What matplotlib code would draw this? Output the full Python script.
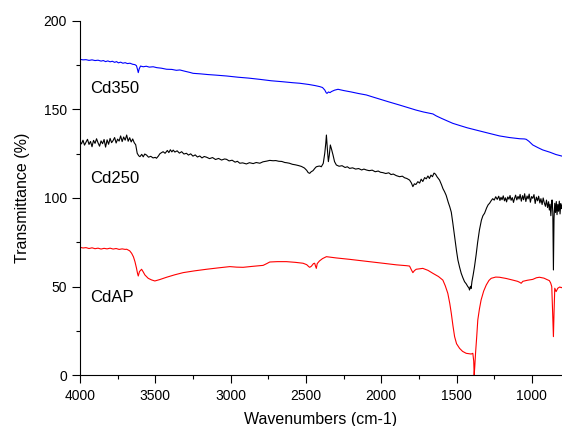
import matplotlib
matplotlib.use("Agg")
import matplotlib.pyplot as plt
from matplotlib.ticker import MultipleLocator

plt.rcParams['font.family'] = ['Liberation Sans', 'DejaVu Sans']

# Cd350 (blue)
cd350_wn = [4000, 3980, 3960, 3940, 3920, 3900, 3880, 3860, 3845, 3830, 3815, 3800, 3785, 3770,
            3757, 3745, 3730, 3715, 3700, 3685, 3668, 3650, 3635, 3625, 3618, 3613, 3607, 3598,
            3580, 3560, 3540, 3514, 3490, 3460, 3425, 3390, 3360, 3337, 3300, 3270, 3249, 3200,
            3150, 3100, 3027, 2950, 2880, 2806, 2730, 2660, 2586, 2541, 2480, 2440, 2408, 2390,
            2375, 2365, 2360, 2350, 2340, 2331, 2310, 2287, 2250, 2200, 2150, 2099, 2050, 2000,
            1950, 1878, 1820, 1770, 1720, 1680, 1657, 1635, 1600, 1560, 1525, 1480, 1430, 1370,
            1300, 1215, 1150, 1080, 1050, 1038, 1020, 994, 960, 928, 880, 840, 804, 800]
cd350_t = [178.2, 177.9, 178.0, 177.6, 177.9, 177.5, 177.7, 177.2, 177.5, 176.9, 177.3, 176.8,
           177.1, 176.5, 176.9, 176.2, 176.6, 176.0, 176.3, 175.8, 176.0, 175.4, 175.2, 174.6,
           172.5, 170.7, 172.8, 174.4, 174.0, 174.3, 173.8, 174.0, 173.5, 173.2, 172.6, 172.5,
           172.0, 172.2, 171.4, 170.8, 170.3, 170.0, 169.6, 169.3, 168.8, 168.1, 167.6, 166.9,
           166.1, 165.6, 165.0, 164.7, 164.0, 163.4, 162.8, 162.3, 160.9, 159.3, 159.0, 159.8,
           159.4, 160.0, 160.8, 161.3, 160.6, 159.8, 158.9, 158.1, 156.8, 155.5, 154.2, 152.4,
           150.9, 149.6, 148.5, 147.8, 147.4, 146.3, 144.9, 143.4, 142.1, 140.9, 139.6, 138.3,
           136.8, 135.0, 134.1, 133.4, 133.3, 133.1, 132.0, 129.9, 128.4, 127.1, 125.8, 124.5,
           123.7, 123.6]

# Cd250 (black)
cd250_wn = [4000, 3990, 3980, 3970, 3960, 3950, 3940, 3930, 3920, 3910, 3900, 3890, 3880, 3870,
            3860, 3850, 3840, 3830, 3820, 3810, 3800, 3790, 3780, 3770, 3760, 3750, 3740, 3730,
            3720, 3710, 3700, 3690, 3680, 3670, 3660, 3650, 3640, 3630,
            3620, 3610, 3602, 3590, 3580, 3570, 3558, 3545, 3530, 3515, 3500, 3492, 3480, 3470,
            3460, 3448, 3435, 3420, 3410, 3400, 3390, 3381, 3370, 3355, 3340, 3325, 3310, 3293,
            3280, 3265, 3250, 3235, 3220, 3205, 3190, 3175, 3160, 3140, 3120, 3100, 3080, 3060,
            3040, 3027, 3010, 2990, 2970, 2955, 2939, 2920, 2895, 2875, 2850, 2830, 2806, 2785,
            2760, 2740, 2718, 2700, 2680, 2660, 2640, 2629, 2610, 2590, 2570, 2550, 2530, 2510,
            2495, 2485, 2475, 2465, 2453, 2440, 2431, 2418, 2408, 2398, 2385, 2375, 2368, 2364,
            2358, 2351, 2345, 2338, 2330, 2320, 2310, 2298, 2280, 2260, 2240, 2225, 2210, 2190,
            2170, 2150, 2130, 2115, 2099, 2080, 2060, 2040, 2020, 2005, 1989, 1970, 1950, 1935,
            1920, 1900, 1878, 1860, 1845, 1830, 1812, 1800, 1790, 1780, 1770, 1757, 1745, 1735,
            1724, 1712, 1701, 1690, 1680, 1670, 1660, 1650, 1646, 1638, 1630, 1613, 1600, 1590,
            1580, 1569, 1555, 1545, 1535, 1525, 1513, 1500, 1491, 1480, 1469, 1458, 1447, 1436,
            1425, 1418, 1414, 1408, 1403, 1398, 1390, 1381, 1370, 1360, 1348, 1335, 1325, 1314,
            1300, 1290, 1281, 1270, 1260, 1250, 1240, 1230, 1220, 1212, 1205, 1198, 1190, 1182,
            1175, 1168, 1160, 1152, 1145, 1138, 1130, 1122, 1115, 1108, 1100, 1092, 1085, 1078,
            1070, 1062, 1055, 1048, 1040, 1032, 1025, 1018, 1010, 1002, 994, 986, 978, 970, 962,
            955, 947, 940, 932, 925, 918, 910, 903, 896, 889, 884, 879, 874, 870, 866, 861, 857,
            853, 848, 843, 838, 833, 828, 823, 818, 813, 808, 804, 800]
cd250_t = [131.8, 130.5, 132.6, 129.8, 131.4, 133.1, 130.2, 131.9, 128.9, 132.5, 130.8, 133.4,
           131.1, 129.2, 132.2, 130.6, 133.0, 128.7, 132.8, 130.3, 133.6, 131.2, 132.4, 134.1,
           131.0, 133.2, 132.1, 135.0, 131.8, 134.4, 132.6, 135.5, 132.0, 134.0, 131.6, 133.3,
           131.2, 130.0,
           125.2, 123.8, 123.3, 124.6, 123.2, 124.8, 124.2, 123.0, 123.5, 122.6, 122.9, 122.4,
           123.6, 124.9, 125.5, 126.1, 125.2, 126.8, 125.6, 127.2, 126.0, 127.0, 125.9, 126.6,
           125.3, 126.1, 124.8, 125.2, 124.2, 124.9, 123.6, 124.3, 123.1, 123.7, 122.6, 123.4,
           123.0, 122.2, 122.8, 121.7, 122.3, 121.4, 122.0, 121.8, 120.9, 121.3, 120.2, 120.7,
           119.6, 119.8, 119.2, 119.9, 119.4, 120.0, 119.6, 120.4, 120.8, 121.2, 121.0, 121.1,
           120.7, 120.6, 120.0, 119.9, 119.6, 119.0, 118.7, 118.3, 117.8, 116.9, 115.6, 114.3,
           113.9, 114.8, 115.4, 116.8, 117.6, 117.9, 118.0, 117.6, 119.5, 125.2, 131.0, 135.5,
           128.0, 120.5, 124.0, 129.9, 127.5, 124.2, 120.5, 118.6, 117.9, 118.2, 117.2, 117.6,
           116.7, 117.0, 116.3, 116.6, 115.8, 116.3, 115.8, 115.4, 115.7, 114.8, 115.2, 114.5,
           114.3, 113.8, 114.2, 113.2, 113.5, 112.6, 112.0, 112.3, 111.4, 111.0, 110.1, 108.5,
           106.4, 108.0, 107.6, 109.2, 108.4, 110.6, 109.3, 111.5, 110.8, 112.4, 111.0, 112.9,
           112.0, 114.0, 113.9, 113.2, 112.0, 110.1, 107.5, 105.2, 103.6, 101.5, 97.5, 95.0,
           92.0, 86.0, 78.2, 70.0, 65.0, 61.0, 57.5, 55.0, 52.8, 51.6, 50.0, 49.3, 48.1, 50.2,
           49.0, 52.8, 56.5, 61.2, 68.0, 75.0, 82.0, 87.5, 90.0, 91.4, 94.5, 96.2, 97.0, 98.5,
           99.6, 98.8, 100.7, 99.2, 101.0, 98.6, 100.4, 99.0, 101.2, 98.4, 100.1, 97.8, 100.6,
           99.3, 101.4, 98.7, 100.2, 97.5, 99.8, 101.6, 98.9, 100.9, 99.4, 102.0, 98.2, 101.3,
           99.0, 102.4, 98.0, 101.1, 99.5, 102.2, 97.6, 100.8, 99.8, 101.9, 96.9, 100.5, 98.4,
           101.0, 97.2, 99.6, 96.3, 100.0, 97.4, 95.3, 98.8, 94.6, 97.9, 93.2, 96.5, 90.0, 95.5,
           98.9, 92.0, 59.4, 88.5, 97.0, 91.8, 98.0, 90.6, 96.4, 92.5, 98.2, 91.0, 96.8, 94.0,
           95.5]

# CdAP (red)
cdap_wn = [4000, 3980, 3960, 3940, 3920, 3900, 3880, 3860, 3840, 3820, 3800, 3780, 3760, 3740,
           3720, 3700, 3690, 3670, 3657, 3645, 3635, 3625, 3618, 3613, 3605, 3591, 3580, 3569,
           3547, 3525, 3503, 3470, 3425, 3370, 3315, 3240, 3160, 3080, 3005, 2960, 2917, 2860,
           2784, 2760, 2740, 2690, 2629, 2570, 2519, 2495, 2480, 2475, 2464, 2450, 2442, 2436,
           2431, 2425, 2410, 2390, 2364, 2300, 2210, 2100, 1989, 1900, 1830, 1812, 1800, 1790,
           1780, 1768, 1724, 1690, 1657, 1620, 1591, 1575, 1558, 1545, 1535, 1524, 1513, 1500,
           1480, 1460, 1436, 1403, 1392, 1386, 1383, 1379, 1374, 1366, 1359, 1348, 1337, 1320,
           1303, 1285, 1270, 1240, 1215, 1170, 1127, 1095, 1080, 1071, 1060, 1030, 994, 970,
           950, 920, 900, 884, 875, 868, 862, 857, 853, 848, 839, 828, 815, 804, 800]
cdap_t = [72.2, 71.8, 72.0, 71.5, 71.9, 71.4, 71.7, 71.2, 71.6, 71.3, 71.7, 71.2, 71.5, 71.0,
          71.3, 71.0, 71.1, 70.2, 68.8, 66.8, 64.1, 60.5, 57.5, 56.0, 58.5, 59.8, 58.3, 56.6,
          54.7, 53.8, 53.2, 54.0, 55.3, 56.7, 57.9, 58.9, 59.8, 60.6, 61.3, 61.0, 60.9, 61.4,
          62.0, 63.0, 63.9, 64.1, 64.1, 63.7, 63.2, 62.4, 61.2, 60.9, 61.5, 63.0, 63.2, 61.5,
          60.3, 63.0, 64.5, 65.8, 66.9, 66.2, 65.4, 64.3, 63.2, 62.3, 61.8, 61.6, 59.5, 57.9,
          59.0, 59.8, 60.3, 59.2, 57.5, 55.7, 53.7, 50.5, 46.2, 40.5, 35.0, 28.0, 21.8, 17.8,
          15.2, 13.5, 12.4, 12.0, 12.4, 8.0, 0.0, 5.0, 12.4, 22.0, 31.2, 37.5, 42.5, 47.5,
          50.9, 53.5, 54.7, 55.4, 55.3, 54.6, 53.7, 53.0, 52.4, 51.9, 53.0, 53.6, 54.1, 55.0,
          55.3, 54.8, 54.0, 53.4, 52.0, 50.0, 35.0, 21.8, 35.0, 49.1, 47.2, 49.1, 49.8, 49.4,
          49.6]

labels = ["Cd350", "Cd250", "CdAP"]
label_pos = [(3930, 162), (3930, 111), (3935, 44)]

fig = plt.figure(figsize=(5.62, 4.26), dpi=100)
ax = fig.add_axes([0.1423, 0.119, 0.8577, 0.8325])

ax.plot(cd350_wn, cd350_t, color='#0000ff', lw=0.8)
ax.plot(cd250_wn, cd250_t, color='black', lw=0.8)
ax.plot(cdap_wn, cdap_t, color='#ff0000', lw=0.8)

for name, (x, y) in zip(labels, label_pos):
    ax.text(x, y, name, fontsize=12, ha='left', va='center')

ax.set_xlim(4000, 800)
ax.set_ylim(0, 200)
ax.xaxis.set_major_locator(MultipleLocator(500))
ax.xaxis.set_minor_locator(MultipleLocator(250))
ax.yaxis.set_major_locator(MultipleLocator(50))
ax.yaxis.set_minor_locator(MultipleLocator(25))
ax.tick_params(which='major', direction='out', length=5.5, width=0.8, labelsize=10, pad=4)
ax.tick_params(which='minor', direction='out', length=3, width=0.8)
ax.spines['top'].set_visible(False)
ax.spines['right'].set_visible(False)
for s in ('left', 'bottom'):
    ax.spines[s].set_linewidth(0.8)

ax.set_xlabel("Wavenumbers (cm-1)", fontsize=11.5, labelpad=7)
ax.set_ylabel("Transmittance (%)", fontsize=11.5, labelpad=10)

fig.savefig("out.png", dpi=100)
